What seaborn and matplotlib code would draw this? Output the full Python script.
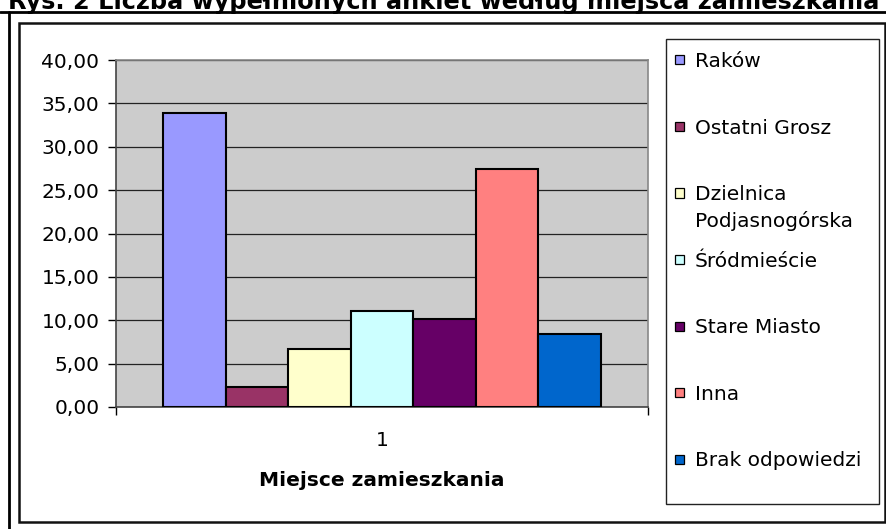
import numpy as np
import pandas as pd
import matplotlib
matplotlib.use("Agg")
import matplotlib.pyplot as plt
from matplotlib.patches import Rectangle
from matplotlib.lines import Line2D
from matplotlib.ticker import FuncFormatter, MultipleLocator
import seaborn as sns

# dane
kategoria = ['1']
miejsca = ['Raków', 'Ostatni Grosz', 'Dzielnica\nPodjasnogórska', 'Śródmieście',
           'Stare Miasto', 'Inna', 'Brak odpowiedzi']
wartosci = [33.90, 2.27, 6.68, 11.10, 10.20, 27.40, 8.40]
kolory = ['#9999FF', '#993366', '#FFFFCC', '#CCFFFF', '#660066', '#FF8080', '#0066CC']
tytul = 'Rys. 2 Liczba wypełnionych ankiet według miejsca zamieszkania'
os_x = 'Miejsce zamieszkania'

df = pd.DataFrame({'grupa': kategoria * len(miejsca), 'miejsce': miejsca, 'wartosc': wartosci})

sns.set_style('ticks')
plt.rcParams['font.family'] = ['DejaVu Sans']
plt.rcParams['text.color'] = 'black'
plt.rcParams['axes.labelcolor'] = 'black'
plt.rcParams['xtick.color'] = 'black'
plt.rcParams['ytick.color'] = 'black'

W, H = 887, 529
fig = plt.figure(figsize=(W / 100, H / 100), dpi=100)

def fx(px):
    return px / W

def fy(py):
    return 1 - py / H

# obszar wykresu
ax = fig.add_axes([fx(116), fy(407), fx(648) - fx(116), fy(60) - fy(407)])
ax.set_facecolor('#CCCCCC')

sns.barplot(data=df, x='grupa', y='wartosc', hue='miejsce', hue_order=miejsca,
            palette=kolory, width=7 / 8.5, edgecolor='black', linewidth=1.5,
            saturation=1, legend=False, ax=ax, zorder=3)

ax.set_xlim(-0.5, 0.5)
ax.set_ylim(0, 40)
ax.yaxis.set_major_locator(MultipleLocator(5))
ax.yaxis.set_major_formatter(FuncFormatter(lambda v, p: f'{v:.2f}'.replace('.', ',')))
ax.grid(axis='y', color='#222222', linewidth=0.9, zorder=0)
ax.set_axisbelow(True)

ax.tick_params(axis='y', length=6, width=1, pad=6, labelsize=14.5, colors='black')
ax.tick_params(axis='x', which='major', length=0, pad=17, labelsize=14.5, colors='black')
ax.set_xticks([-0.5, 0.5], minor=True)
ax.tick_params(axis='x', which='minor', length=6, width=1)
ax.set_ylabel('')
ax.set_xlabel(os_x, fontsize=14.5, fontweight='bold', labelpad=15.5, color='black')

for s in ['left', 'bottom']:
    ax.spines[s].set_color('#444444')
    ax.spines[s].set_linewidth(1.2)
for s in ['top', 'right']:
    ax.spines[s].set_visible(True)
    ax.spines[s].set_color('#888888')
    ax.spines[s].set_linewidth(1.2)

# ramki
fig.add_artist(Rectangle((fx(19), fy(522)), fx(885) - fx(19), fy(23) - fy(522),
                         transform=fig.transFigure, fill=False, edgecolor='#111111', linewidth=1.8))
fig.add_artist(Line2D([0, 1], [fy(12), fy(12)], transform=fig.transFigure, color='black', linewidth=2))
fig.add_artist(Line2D([fx(9), fx(9)], [fy(12), 0], transform=fig.transFigure, color='black', linewidth=2))

# legenda
fig.add_artist(Rectangle((fx(666), fy(504)), fx(879) - fx(666), fy(39) - fy(504),
                         transform=fig.transFigure, facecolor='white', edgecolor='#222222', linewidth=1))
for i, (nazwa, kolor) in enumerate(zip(miejsca, kolory)):
    yc = 60 + i * 66.5
    fig.add_artist(Rectangle((fx(675), fy(yc + 4.5)), fx(9), 9 / H, transform=fig.transFigure,
                             facecolor=kolor, edgecolor='black', linewidth=0.9))
    dodatkowe = nazwa.count('\n') * 27
    fig.text(fx(695), fy(yc + 7.3 + dodatkowe), nazwa, fontsize=14.5, va='baseline', ha='left',
             linespacing=1.45, color='black')

# tytuł
fig.text(0.5, fy(9), tytul, fontsize=17.3, fontweight='bold', ha='center', va='baseline',
         color='black')

fig.savefig('out.png', dpi=100)
